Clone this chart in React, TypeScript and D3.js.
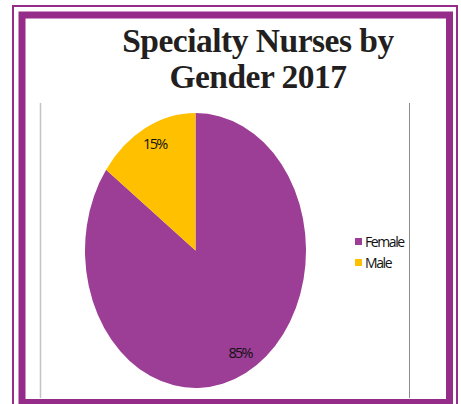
import React from "react";
import * as d3 from "d3";

const categories = ["Female", "Male"];
const values = [85, 15];
const colors = ["#9C3D96", "#FFC000"];
const title = ["Specialty Nurses by", "Gender 2017"];

const W = 461;
const H = 404;

export default function App() {
  const cx = 195.5;
  const cy = 250.5;
  const R = 137.5;
  const rx = 110.5;
  const data = categories.map((c, i) => ({ c, v: values[i] }));
  const pie = d3.pie<any>().sort(null).value((d) => d.v);
  const arcs = pie(data);
  const arc = d3.arc<any>().innerRadius(0).outerRadius(R);
  const labelArc = d3.arc<any>().innerRadius(R * 0.85).outerRadius(R * 0.85);
  const total = d3.sum(values);
  const sx = rx / R;
  const labelFont = "'Open Sans', 'Noto Sans', sans-serif";

  return (
    <svg
      width={W}
      height={H}
      style={{ position: "fixed", left: 0, top: 0, background: "#fff" }}
    >
      <rect x={0} y={0} width={W} height={H} fill="#fff" />
      {/* gray side lines */}
      <line x1={40.5} x2={40.5} y1={103} y2={398} stroke="#c4c4c4" strokeWidth={1.5} />
      <line x1={409.5} x2={409.5} y1={103} y2={398} stroke="#8c8c8c" strokeWidth={1} />
      {/* title */}
      {title.map((t, i) => (
        <text
          key={t}
          x={258}
          y={52 + i * 36}
          textAnchor="middle"
          fontFamily="'Liberation Serif', 'Times New Roman', serif"
          fontWeight="bold"
          fontSize={33.5}
          letterSpacing={-0.5}
          fill="#231f20"
        >
          {t}
        </text>
      ))}
      {/* pie */}
      <g transform={`translate(${cx},${cy}) scale(${sx},1)`}>
        {arcs.map((a, i) => (
          <path key={i} d={arc(a) as string} fill={colors[i]} />
        ))}
      </g>
      {arcs.map((a, i) => {
        const [lx, ly] = labelArc.centroid(a);
        return (
          <text
            key={i}
            x={cx + lx * sx + 2}
            y={cy + ly - 2.5}
            textAnchor="middle"
            dominantBaseline="central"
            fontFamily={labelFont}
            fontSize={14.5}
            letterSpacing={-1.7}
            fill="#111"
          >
            {Math.round((values[i] / total) * 100)}%
          </text>
        );
      })}
      {/* legend */}
      {categories.map((c, i) => (
        <g key={c} transform={`translate(355,${238 + i * 21})`}>
          <rect x={0} y={0} width={7} height={7} fill={colors[i]} />
          <text
            x={10}
            y={3.5}
            dominantBaseline="central"
            fontFamily={labelFont}
            fontSize={14}
            letterSpacing={-1.4}
            fill="#111"
          >
            {c}
          </text>
        </g>
      ))}
      {/* frame */}
      <rect x={13} y={6} width={444} height={420} fill="none" stroke="#952C89" strokeWidth={2} />
      <rect x={22} y={15} width={427.5} height={387.5} fill="none" stroke="#952C89" strokeWidth={7} />
    </svg>
  );
}
